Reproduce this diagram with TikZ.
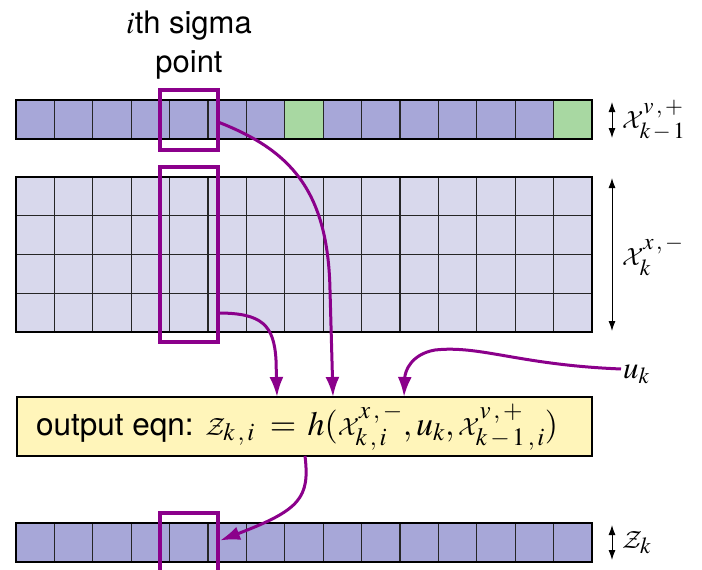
\documentclass[tikz,border=0pt]{standalone}
\usepackage{mathptmx}
\DeclareMathAlphabet{\mathcal}{OMS}{cmsy}{m}{n}
\DeclareMathSizes{31}{31}{23}{18}
\DeclareMathSizes{31.5}{34}{25}{20}
\usepackage{fontspec}
\setmainfont{TeX Gyre Heros}
\usetikzlibrary{arrows.meta,calc}
\definecolor{cellA}{HTML}{A7A7D8}
\definecolor{cellB}{HTML}{D8D8EC}
\definecolor{cellG}{HTML}{A8D8A2}
\definecolor{eqnY}{HTML}{FFF5BA}
\definecolor{hlc}{HTML}{8B008B}
\newcommand{\scm}{\,,\,}
\tikzset{
  rowfill/.style={draw=none, inner sep=0pt, outer sep=0pt, anchor=north west},
  cellline/.style={draw=black!85, line width=1.1pt},
  outerline/.style={draw=black, line width=2pt},
  hlbox/.style={draw=hlc, line width=3.2pt, inner sep=0pt, outer sep=0pt, minimum width=58pt},
  conn/.style={draw=hlc, line width=3pt, -{Latex[length=20pt,width=14pt]}},
  dimarrow/.style={draw=black, line width=1pt, {Latex[length=10pt,width=7pt]}-{Latex[length=10pt,width=7pt]}},
  eqnbox/.style={draw=black, line width=2pt, fill=eqnY, inner sep=0pt, outer sep=0pt, minimum width=575pt, minimum height=59pt},
  lbl/.style={inner sep=0pt, outer sep=2pt},
}
\begin{document}
\begin{tikzpicture}[x=1pt,y=-1pt,font=\fontsize{31}{38}\selectfont]
\useasboundingbox (0,0) rectangle (702,570);
\clip (0,0) rectangle (702,570);
\fill[white] (0,0) rectangle (702,570);

% top row X^{v,+}_{k-1}
\node[rowfill, fill=cellA, minimum width=576pt, minimum height=39pt] (xv) at (16,100) {};
\fill[cellG] ({16+7*38.4},100) rectangle ++(38.4,39);
\fill[cellG] ({16+14*38.4},100) rectangle ++(38.4,39);
\foreach \i in {1,...,14} \draw[cellline] ({16+\i*38.4},100) -- ({16+\i*38.4},139);
\draw[outerline] (xv.north west) rectangle (xv.south east);

% middle grid X^{x,-}_k
\node[rowfill, fill=cellB, minimum width=576pt, minimum height=155pt] (xx) at (16,177) {};
\foreach \i in {1,...,14} \draw[cellline] ({16+\i*38.4},177) -- ({16+\i*38.4},332);
\foreach \j in {1,2,3} \draw[cellline] (16,{177+\j*38.75}) -- (592,{177+\j*38.75});
\draw[outerline] (xx.north west) rectangle (xx.south east);

% bottom row Z_k
\node[rowfill, fill=cellA, minimum width=576pt, minimum height=39pt] (zz) at (16,523) {};
\foreach \i in {1,...,14} \draw[cellline] ({16+\i*38.4},523) -- ({16+\i*38.4},562);
\draw[outerline] (zz.north west) rectangle (zz.south east);

% highlight boxes
\node[hlbox, minimum height=60pt] (hlTop) at (189,120) {};
\node[hlbox, minimum height=175pt] (hlMid) at (189,254.5) {};
\node[hlbox, minimum height=66pt] (hlBot) at (189,546) {};

% equation box
\node[eqnbox] (eqn) at (304.5,426.5) {};
\node[lbl, anchor=base west, font=\fontsize{31.5}{38}\selectfont] (eqnt) at (34,435) {output eqn: $\mathcal{Z}_{k\scm i}\;=\,h(\mathcal{X}^{x\scm -}_{k\scm i},u_k,\mathcal{X}^{v\scm +}_{k\mkern2mu-\mkern2mu1\scm i})$};

% top text
\node[lbl, anchor=base] (sig1) at (189,33) {$i$th sigma};
\node[lbl, anchor=base] (sig2) at (189,72) {point};

% right labels
\coordinate (d1a) at (612,102); \coordinate (d1b) at (612,138);
\draw[dimarrow] (d1a) -- (d1b);
\node[lbl, anchor=west] (lxv) at (620,120) {$\mathcal{X}^{v\scm +}_{k\mkern2mu-\mkern2mu1}$};
\coordinate (d2a) at (612,178); \coordinate (d2b) at (612,331);
\draw[dimarrow] (d2a) -- (d2b);
\node[lbl, anchor=west] (lxx) at (620,256) {$\mathcal{X}^{x\scm -}_{k}$};
\coordinate (d3a) at (612,525); \coordinate (d3b) at (612,560);
\draw[dimarrow] (d3a) -- (d3b);
\node[lbl, anchor=west] (lzz) at (620,543) {$\mathcal{Z}_k$};
\node[lbl, anchor=base west] (uk) at (621,378) {$u_k$};

% connectors
\draw[conn] ([yshift=-2pt]hlTop.east) .. controls (290,150) and (328,190) .. (330,290) -- ([xshift=28.5pt]eqn.north);
\draw[conn] ([yshift=-58.5pt]hlMid.east) .. controls (262,313) and (274,325) .. (276,360) -- ([xshift=-27.5pt]eqn.north);
\draw[conn] ([yshift=5pt]uk.west) .. controls (520,365) and (480,345) .. (435,350) .. controls (412,354) and (405,370) .. ([xshift=99.5pt]eqn.north);
\draw[conn] ([xshift=0.5pt]eqn.south) .. controls (310,498) and (300,510) .. ([yshift=5.5pt,xshift=2pt]hlBot.east);
\end{tikzpicture}
\end{document}
